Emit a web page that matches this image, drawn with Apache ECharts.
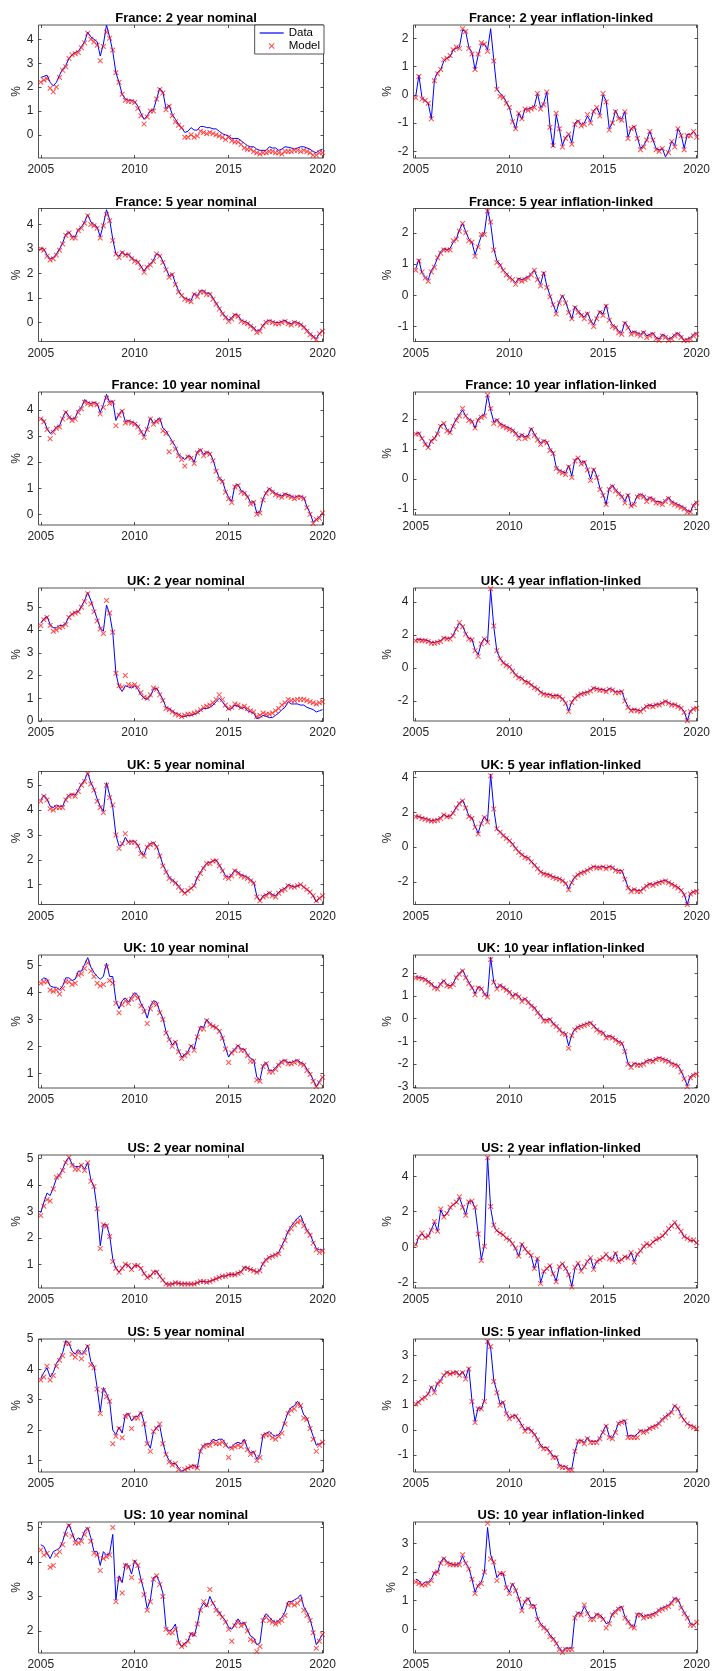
<!DOCTYPE html>
<html><head><meta charset="utf-8">
<script src="https://cdn.jsdelivr.net/npm/echarts@6/dist/echarts.min.js"></script>
<style>html,body{margin:0;padding:0;background:#fff}#c{width:713px;height:1671px}</style>
</head><body><div id="c"></div>
<script>
// time grid: every two months, Jan 2005 .. Jan 2020
const years = [];
for (let k = 0; k <= 90; k++) years.push(2005 + k / 6);
const xTicks = [2005, 2010, 2015, 2020];

const titles = [
  'France: 2 year nominal', 'France: 2 year inflation-linked',
  'France: 5 year nominal', 'France: 5 year inflation-linked',
  'France: 10 year nominal', 'France: 10 year inflation-linked',
  'UK: 2 year nominal', 'UK: 4 year inflation-linked',
  'UK: 5 year nominal', 'UK: 5 year inflation-linked',
  'UK: 10 year nominal', 'UK: 10 year inflation-linked',
  'US: 2 year nominal', 'US: 2 year inflation-linked',
  'US: 5 year nominal', 'US: 5 year inflation-linked',
  'US: 10 year nominal', 'US: 10 year inflation-linked'
];

const yTicks = [
  [0,1,2,3,4], [-2,-1,0,1,2],
  [0,1,2,3,4], [-1,0,1,2],
  [0,1,2,3,4], [-1,0,1,2],
  [0,1,2,3,4,5], [-2,0,2,4],
  [1,2,3,4,5], [-2,0,2,4],
  [1,2,3,4,5], [-3,-2,-1,0,1,2],
  [1,2,3,4,5], [-2,0,2,4],
  [1,2,3,4,5], [-1,0,1,2,3],
  [2,3,4,5], [0,1,2,3]
];
const yMin = [-0.97, -2.24, -0.77, -1.48, -0.41, -1.2, 0, -3.22, 0.2, -3.3, 0.45, -3.05, 0.1, -2.3, 0.62, -1.68, 1.36, -0.82];
const yMax = [4.6, 2.48, 4.65, 2.78, 4.69, 2.9, 5.85, 4.85, 5.55, 4.35, 5.4, 2.8, 5.14, 5.2, 5.0, 3.65, 5.16, 3.74];

// ---------------- France ----------------
const fr2Nom = [
  2.40, 2.45, 2.50, 2.20, 2.05, 2.20,
  2.50, 2.75, 2.90, 3.20, 3.35, 3.45,
  3.50, 3.70, 3.90, 4.30, 4.10, 4.00,
  3.90, 3.30, 3.80, 4.60, 4.10, 3.50,
  2.60, 2.20, 1.70, 1.50, 1.45, 1.45,
  1.40, 1.20, 0.90, 0.65, 0.80, 1.00,
  1.05, 1.50, 1.95, 1.80, 1.10, 1.25,
  0.85, 0.65, 0.45, 0.30, 0.10, 0.15,
  0.30, 0.20, 0.20, 0.35, 0.35, 0.30,
  0.30, 0.25, 0.25, 0.15, 0.05, 0.00,
  -0.05, -0.15, -0.15, -0.15, -0.25, -0.35,
  -0.45, -0.50, -0.50, -0.60, -0.65, -0.65,
  -0.65, -0.50, -0.55, -0.55, -0.65, -0.60,
  -0.50, -0.52, -0.55, -0.60, -0.55, -0.50,
  -0.50, -0.55, -0.60, -0.70, -0.75, -0.65,
  -0.60];
const fr2NomModel = [
  2.20, 2.30, 2.35, 1.95, 1.80, 2.00,
  2.40, 2.70, 2.85, 3.20, 3.35, 3.40,
  3.45, 3.65, 3.85, 4.25, 4.00, 3.90,
  3.75, 3.10, 3.70, 4.30, 4.05, 3.55,
  2.60, 2.20, 1.70, 1.45, 1.40, 1.40,
  1.35, 1.10, 0.80, 0.45, 0.75, 1.00,
  1.00, 1.50, 1.90, 1.75, 1.05, 1.20,
  0.80, 0.55, 0.40, 0.30, -0.10, -0.10,
  0.00, -0.10, -0.05, 0.15, 0.10, 0.05,
  0.10, 0.05, 0.00, -0.05, -0.10, -0.20,
  -0.10, -0.25, -0.30, -0.30, -0.40, -0.55,
  -0.60, -0.60, -0.70, -0.75, -0.80, -0.75,
  -0.75, -0.70, -0.70, -0.75, -0.75, -0.80,
  -0.70, -0.70, -0.70, -0.65, -0.65, -0.70,
  -0.65, -0.70, -0.75, -0.85, -0.85, -0.75,
  -0.75];

const fr2IL = [
  -0.05, 0.70, -0.10, -0.20, -0.30, -0.85,
  0.55, 0.80, 0.90, 1.20, 1.30, 1.35,
  1.60, 1.65, 1.70, 2.30, 2.25, 1.70,
  1.50, 0.90, 1.40, 1.80, 1.80, 1.60,
  2.35, 1.25, 0.20, 0.05, -0.05, -0.25,
  -0.45, -0.90, -1.20, -0.65, -0.85, -0.50,
  -0.50, -0.45, -0.40, 0.05, -0.45, -0.30,
  0.10, -1.10, -1.85, -0.70, -1.20, -1.80,
  -1.50, -1.40, -1.70, -1.00, -0.90, -1.05,
  -1.00, -0.75, -0.95, -0.55, -0.45, -0.70,
  0.00, -0.20, -1.20, -1.00, -0.55, -0.80,
  -0.85, -0.60, -1.50, -1.20, -1.10, -1.50,
  -1.90, -1.80, -1.60, -1.30, -1.60, -1.90,
  -1.95, -1.90, -2.20, -2.00, -1.65, -1.80,
  -1.20, -1.40, -1.90, -1.40, -1.40, -1.30,
  -1.45];
const fr2ILModel = [
  -0.10, 0.65, -0.15, -0.20, -0.30, -0.85,
  0.50, 0.75, 0.90, 1.25, 1.30, 1.40,
  1.60, 1.70, 1.65, 2.35, 2.25, 1.65,
  1.45, 0.90, 1.45, 1.85, 1.80, 1.55,
  2.50, 1.20, 0.20, -0.05, -0.10, -0.30,
  -0.45, -0.95, -1.20, -0.65, -0.85, -0.50,
  -0.55, -0.50, -0.45, 0.05, -0.50, -0.35,
  0.10, -1.15, -1.80, -0.65, -1.20, -1.85,
  -1.55, -1.40, -1.75, -1.05, -0.95, -1.10,
  -1.05, -0.70, -1.00, -0.60, -0.45, -0.75,
  0.05, -0.25, -1.25, -1.00, -0.60, -0.85,
  -0.90, -0.60, -1.55, -1.20, -1.15, -1.55,
  -1.95, -1.85, -1.60, -1.30, -1.60, -1.95,
  -2.00, -1.90, -2.25, -2.05, -1.65, -1.85,
  -1.20, -1.45, -1.95, -1.45, -1.45, -1.30,
  -1.50];

const fr5Nom = [
  3.05, 3.00, 2.75, 2.60, 2.65, 2.80,
  3.00, 3.25, 3.60, 3.70, 3.50, 3.50,
  3.80, 3.90, 4.10, 4.40, 4.10, 4.00,
  3.90, 3.50, 4.00, 4.60, 4.20, 3.40,
  2.80, 2.70, 2.90, 2.75, 2.80, 2.65,
  2.55, 2.50, 2.30, 2.10, 2.30, 2.40,
  2.55, 2.80, 2.75, 2.50, 2.20, 1.90,
  2.00, 1.60, 1.30, 1.10, 1.00, 0.95,
  0.90, 1.20, 1.10, 1.30, 1.30, 1.20,
  1.20, 1.00, 0.80, 0.60, 0.40, 0.25,
  0.10, 0.20, 0.35, 0.30, 0.10, 0.05,
  0.00, -0.10, -0.20, -0.35, -0.30, -0.10,
  0.05, 0.10, 0.05, 0.00, 0.00, 0.05,
  0.10, 0.00, -0.05, 0.05, 0.00, -0.05,
  -0.15, -0.30, -0.45, -0.55, -0.65, -0.45,
  -0.30];
const fr5NomModel = [
  3.00, 2.95, 2.70, 2.55, 2.60, 2.75,
  2.95, 3.20, 3.55, 3.65, 3.45, 3.45,
  3.75, 3.85, 4.05, 4.35, 4.00, 3.95,
  3.85, 3.45, 3.95, 4.40, 4.15, 3.35,
  2.80, 2.65, 2.85, 2.75, 2.75, 2.60,
  2.50, 2.45, 2.25, 2.05, 2.25, 2.35,
  2.50, 2.80, 2.70, 2.45, 2.15, 1.85,
  1.95, 1.55, 1.25, 1.10, 0.95, 0.90,
  0.85, 1.15, 1.05, 1.25, 1.25, 1.15,
  1.15, 0.95, 0.75, 0.55, 0.35, 0.20,
  0.05, 0.15, 0.30, 0.25, 0.05, 0.00,
  -0.05, -0.15, -0.25, -0.40, -0.35, -0.15,
  0.00, 0.05, 0.00, -0.05, -0.05, 0.00,
  0.05, -0.05, -0.10, 0.00, -0.05, -0.10,
  -0.20, -0.35, -0.50, -0.60, -0.70, -0.45,
  -0.35];

const fr5IL = [
  0.85, 1.15, 0.70, 0.60, 0.50, 0.80,
  0.95, 1.20, 1.40, 1.50, 1.45, 1.50,
  1.70, 1.80, 2.10, 2.30, 2.05, 1.80,
  1.70, 1.30, 1.60, 1.90, 2.00, 2.75,
  2.30, 1.50, 1.10, 1.00, 0.80, 0.70,
  0.60, 0.50, 0.40, 0.55, 0.50, 0.55,
  0.60, 0.70, 0.80, 0.55, 0.35, 0.75,
  0.30, 0.00, -0.30, -0.55, -0.20, 0.00,
  -0.20, -0.50, -0.75, -0.35, -0.50, -0.60,
  -0.70, -0.55, -0.80, -0.95, -0.70, -0.50,
  -0.60, -0.30, -0.75, -0.95, -1.00, -1.15,
  -1.20, -0.85, -1.00, -1.20, -1.15, -1.20,
  -1.25, -1.15, -1.30, -1.25, -1.20, -1.35,
  -1.40, -1.25, -1.30, -1.40, -1.35, -1.25,
  -1.20, -1.30, -1.45, -1.40, -1.35, -1.25,
  -1.20];
const fr5ILModel = [
  0.80, 1.10, 0.75, 0.55, 0.45, 0.75,
  0.90, 1.20, 1.35, 1.45, 1.45, 1.45,
  1.75, 1.80, 2.05, 2.30, 2.00, 1.75,
  1.70, 1.25, 1.55, 1.95, 1.95, 2.70,
  2.35, 1.45, 1.05, 0.95, 0.80, 0.65,
  0.55, 0.50, 0.35, 0.50, 0.45, 0.50,
  0.55, 0.65, 0.80, 0.50, 0.30, 0.70,
  0.25, -0.05, -0.30, -0.60, -0.25, -0.05,
  -0.25, -0.55, -0.75, -0.40, -0.55, -0.65,
  -0.75, -0.60, -0.85, -1.00, -0.75, -0.55,
  -0.65, -0.35, -0.80, -1.00, -1.05, -1.20,
  -1.25, -0.90, -1.05, -1.25, -1.20, -1.25,
  -1.30, -1.20, -1.35, -1.30, -1.25, -1.40,
  -1.45, -1.30, -1.35, -1.45, -1.40, -1.30,
  -1.25, -1.35, -1.45, -1.45, -1.40, -1.30,
  -1.25];

const fr10Nom = [
  3.70, 3.60, 3.30, 3.10, 3.20, 3.35,
  3.40, 3.70, 3.95, 3.75, 3.65, 3.70,
  4.00, 4.10, 4.40, 4.30, 4.25, 4.30,
  4.25, 3.90, 4.20, 4.60, 4.30, 4.35,
  3.60, 3.85, 4.00, 3.55, 3.60, 3.55,
  3.50, 3.40, 3.20, 3.00, 3.30, 3.70,
  3.50, 3.60, 3.70, 3.30, 3.20, 3.00,
  2.80, 2.60, 2.30, 2.20, 2.10, 2.25,
  2.20, 2.00, 2.40, 2.50, 2.30, 2.40,
  2.35, 2.10, 1.70, 1.40, 1.30, 0.90,
  0.65, 0.50, 1.10, 1.15, 0.90, 0.85,
  0.70, 0.45, 0.50, 0.05, 0.10, 0.60,
  0.85, 1.00, 0.90, 0.80, 0.75, 0.70,
  0.80, 0.75, 0.70, 0.65, 0.70, 0.70,
  0.65, 0.30, 0.05, -0.30, -0.20, -0.10,
  0.05];
const fr10NomModel = [
  3.65, 3.55, 3.25, 2.90, 3.15, 3.30,
  3.35, 3.65, 3.90, 3.70, 3.60, 3.65,
  3.90, 4.05, 4.30, 4.25, 4.20, 4.25,
  4.20, 3.85, 4.10, 4.45, 4.25, 4.30,
  3.40, 3.80, 3.95, 3.50, 3.55, 3.50,
  3.45, 3.35, 3.15, 2.95, 3.25, 3.65,
  3.45, 3.55, 3.60, 3.20, 3.10, 2.40,
  2.75, 2.50, 2.25, 2.10, 1.85, 2.20,
  2.15, 1.95, 2.35, 2.45, 2.25, 2.35,
  2.30, 2.05, 1.65, 1.35, 1.25, 0.85,
  0.60, 0.45, 1.05, 1.10, 0.85, 0.80,
  0.65, 0.40, 0.45, 0.00, 0.05, 0.55,
  0.80, 0.95, 0.85, 0.75, 0.70, 0.65,
  0.75, 0.70, 0.65, 0.60, 0.65, 0.65,
  0.60, 0.25, 0.00, -0.35, -0.20, -0.15,
  0.05];

const fr10IL = [
  1.50, 1.55, 1.35, 1.20, 1.05, 1.30,
  1.35, 1.55, 1.80, 1.85, 1.65, 1.55,
  1.80, 2.00, 2.15, 2.30, 2.10, 2.00,
  1.95, 1.70, 2.00, 2.10, 2.15, 2.80,
  2.30, 1.90, 2.00, 1.85, 1.80, 1.75,
  1.70, 1.65, 1.55, 1.40, 1.50, 1.40,
  1.45, 1.70, 1.50, 1.35, 1.20, 1.30,
  1.25, 1.00, 0.90, 0.40, 0.30, 0.25,
  0.20, 0.45, 0.10, 0.65, 0.70, 0.55,
  0.60, 0.35, 0.00, 0.35, 0.10, -0.30,
  -0.50, -0.85, -0.30, -0.20, -0.35, -0.45,
  -0.55, -0.75, -0.50, -0.90, -0.80, -0.55,
  -0.50, -0.55, -0.70, -0.60, -0.65, -0.75,
  -0.75, -0.80, -0.70, -0.60, -0.75, -0.80,
  -0.85, -0.90, -0.95, -1.05, -1.10, -0.85,
  -0.75];
const fr10ILModel = [
  1.50, 1.50, 1.35, 1.15, 1.05, 1.25,
  1.35, 1.50, 1.75, 1.85, 1.60, 1.55,
  1.75, 1.95, 2.10, 2.35, 2.10, 1.95,
  1.90, 1.70, 1.95, 2.05, 2.10, 2.80,
  2.35, 1.85, 1.95, 1.80, 1.75, 1.70,
  1.65, 1.60, 1.50, 1.35, 1.45, 1.35,
  1.40, 1.65, 1.45, 1.30, 1.15, 1.25,
  1.20, 0.95, 0.85, 0.35, 0.25, 0.20,
  0.15, 0.40, 0.05, 0.60, 0.70, 0.50,
  0.55, 0.30, -0.05, 0.30, 0.05, -0.35,
  -0.55, -0.85, -0.35, -0.25, -0.40, -0.50,
  -0.60, -0.80, -0.55, -0.90, -0.85, -0.60,
  -0.55, -0.60, -0.75, -0.65, -0.70, -0.80,
  -0.80, -0.85, -0.75, -0.65, -0.80, -0.85,
  -0.90, -0.95, -1.00, -1.10, -1.10, -0.90,
  -0.80];

// ---------------- UK ----------------
const uk2Nom = [
  4.30, 4.50, 4.60, 4.25, 4.10, 4.10,
  4.20, 4.20, 4.30, 4.60, 4.70, 4.80,
  4.80, 5.05, 5.30, 5.65, 5.30, 4.90,
  4.50, 4.10, 3.95, 5.10, 4.70, 3.90,
  2.10, 1.50, 1.30, 1.55, 1.50, 1.45,
  1.55, 1.40, 1.15, 1.00, 0.95, 1.10,
  1.40, 1.45, 1.20, 0.95, 0.60, 0.55,
  0.45, 0.35, 0.30, 0.20, 0.20, 0.25,
  0.25, 0.30, 0.35, 0.45, 0.55, 0.55,
  0.60, 0.70, 0.85, 1.00, 0.85, 0.65,
  0.50, 0.55, 0.70, 0.65, 0.55, 0.60,
  0.45, 0.40, 0.35, 0.10, 0.15, 0.25,
  0.20, 0.15, 0.15, 0.25, 0.35, 0.50,
  0.60, 0.85, 0.75, 0.75, 0.75, 0.70,
  0.70, 0.60, 0.55, 0.50, 0.40, 0.45,
  0.50];
const uk2NomModel = [
  4.20, 4.45, 4.55, 4.20, 3.95, 4.00,
  4.10, 4.15, 4.25, 4.55, 4.70, 4.75,
  4.80, 5.00, 5.25, 5.60, 5.15, 4.80,
  4.40, 4.05, 3.85, 5.30, 4.75, 3.90,
  2.10, 1.55, 1.50, 2.00, 1.60, 1.55,
  1.60, 1.50, 1.25, 1.05, 1.00, 1.15,
  1.45, 1.40, 1.15, 0.90, 0.55, 0.50,
  0.40, 0.30, 0.25, 0.20, 0.25, 0.30,
  0.30, 0.35, 0.40, 0.50, 0.60, 0.65,
  0.70, 0.80, 0.95, 1.15, 0.95, 0.70,
  0.55, 0.60, 0.75, 0.70, 0.60, 0.65,
  0.55, 0.45, 0.40, 0.20, 0.25, 0.35,
  0.30, 0.30, 0.35, 0.45, 0.55, 0.70,
  0.80, 0.95, 0.90, 0.90, 0.95, 0.95,
  0.95, 0.90, 0.85, 0.80, 0.75, 0.80,
  0.85];

const uk4IL = [
  1.70, 1.75, 1.70, 1.70, 1.65, 1.55,
  1.55, 1.60, 1.65, 1.85, 1.80, 1.80,
  2.00, 2.40, 2.70, 2.55, 2.10, 1.80,
  1.75, 1.10, 0.80, 1.50, 1.80, 1.55,
  4.75, 2.50, 1.00, 0.60, 0.35, 0.20,
  0.10, -0.15, -0.40, -0.55, -0.60, -0.80,
  -0.85, -1.00, -1.15, -1.25, -1.45, -1.55,
  -1.60, -1.60, -1.70, -1.65, -1.70, -1.85,
  -2.10, -2.60, -2.05, -1.80, -1.65, -1.55,
  -1.50, -1.45, -1.35, -1.20, -1.25, -1.30,
  -1.30, -1.40, -1.25, -1.30, -1.45, -1.45,
  -1.40, -1.95, -2.35, -2.55, -2.50, -2.55,
  -2.60, -2.45, -2.30, -2.25, -2.30, -2.20,
  -2.20, -2.10, -2.00, -2.10, -2.20, -2.20,
  -2.30, -2.40, -2.65, -3.20, -2.60, -2.45,
  -2.40];
const uk4ILModel = [
  1.65, 1.70, 1.65, 1.65, 1.60, 1.50,
  1.50, 1.55, 1.60, 1.80, 1.75, 1.75,
  1.95, 2.35, 2.75, 2.50, 2.05, 1.75,
  1.70, 1.05, 0.70, 1.45, 1.75, 1.55,
  4.80, 2.55, 1.05, 0.55, 0.30, 0.15,
  0.05, -0.20, -0.45, -0.60, -0.65, -0.85,
  -0.90, -1.05, -1.20, -1.30, -1.50, -1.60,
  -1.65, -1.65, -1.75, -1.70, -1.75, -1.90,
  -2.15, -2.65, -2.10, -1.85, -1.70, -1.60,
  -1.55, -1.50, -1.40, -1.25, -1.30, -1.35,
  -1.35, -1.45, -1.30, -1.35, -1.50, -1.50,
  -1.45, -2.00, -2.40, -2.60, -2.55, -2.60,
  -2.65, -2.50, -2.35, -2.30, -2.35, -2.25,
  -2.25, -2.15, -2.05, -2.15, -2.25, -2.25,
  -2.35, -2.45, -2.70, -3.20, -2.65, -2.50,
  -2.45];

const uk5Nom = [
  4.40, 4.60, 4.45, 4.15, 4.10, 4.20,
  4.15, 4.15, 4.45, 4.60, 4.65, 4.60,
  4.80, 5.05, 5.20, 5.50, 5.10, 4.85,
  4.45, 4.15, 3.95, 5.10, 4.60, 4.10,
  3.00, 2.55, 2.60, 2.90, 2.70, 2.75,
  2.75, 2.60, 2.30, 2.20, 2.55, 2.65,
  2.70, 2.55, 2.20, 1.80, 1.55, 1.30,
  1.20, 1.10, 0.95, 0.80, 0.65, 0.75,
  0.85, 0.95, 1.30, 1.50, 1.70, 1.85,
  1.90, 1.95, 2.00, 1.80, 1.60, 1.35,
  1.30, 1.40, 1.60, 1.50, 1.40, 1.35,
  1.30, 1.20, 1.10, 0.55, 0.35, 0.55,
  0.60, 0.70, 0.60, 0.55, 0.70, 0.80,
  0.85, 1.00, 0.95, 0.90, 0.95, 1.00,
  0.90, 0.80, 0.70, 0.55, 0.30, 0.45,
  0.55];
const uk5NomModel = [
  4.35, 4.55, 4.40, 4.05, 4.00, 4.10,
  4.10, 4.10, 4.40, 4.55, 4.60, 4.55,
  4.75, 5.00, 5.15, 5.45, 5.05, 4.80,
  4.35, 4.10, 3.90, 5.00, 4.50, 4.20,
  3.00, 2.45, 2.65, 3.05, 2.70, 2.70,
  2.70, 2.55, 2.25, 2.15, 2.50, 2.60,
  2.65, 2.50, 2.15, 1.75, 1.50, 1.25,
  1.15, 1.05, 0.90, 0.75, 0.65, 0.75,
  0.85, 0.95, 1.25, 1.45, 1.65, 1.85,
  1.85, 1.95, 1.95, 1.75, 1.55, 1.30,
  1.25, 1.35, 1.55, 1.45, 1.35, 1.30,
  1.25, 1.15, 1.05, 0.50, 0.35, 0.50,
  0.55, 0.65, 0.55, 0.50, 0.65, 0.75,
  0.80, 0.95, 0.90, 0.90, 0.95, 1.00,
  0.90, 0.80, 0.70, 0.55, 0.35, 0.45,
  0.55];

const uk5IL = [
  1.80, 1.75, 1.70, 1.65, 1.60, 1.50,
  1.55, 1.60, 1.70, 1.90, 1.75, 1.80,
  2.00, 2.30, 2.55, 2.70, 2.30, 1.80,
  1.70, 1.20, 0.80, 1.40, 1.75, 1.50,
  4.20, 2.20, 1.00, 0.90, 0.70, 0.55,
  0.40, 0.20, -0.05, -0.25, -0.40, -0.55,
  -0.60, -0.80, -1.00, -1.20, -1.40, -1.50,
  -1.55, -1.60, -1.70, -1.75, -1.80, -1.90,
  -2.05, -2.40, -2.00, -1.70, -1.55, -1.45,
  -1.40, -1.30, -1.20, -1.10, -1.15, -1.15,
  -1.10, -1.20, -1.10, -1.15, -1.30, -1.35,
  -1.35, -1.80, -2.30, -2.50, -2.40, -2.50,
  -2.50, -2.35, -2.20, -2.10, -2.15, -2.05,
  -2.00, -1.95, -1.90, -2.00, -2.10, -2.20,
  -2.30, -2.45, -2.70, -3.30, -2.65, -2.55,
  -2.50];
const uk5ILModel = [
  1.75, 1.75, 1.65, 1.60, 1.55, 1.50,
  1.50, 1.55, 1.65, 1.85, 1.75, 1.75,
  1.95, 2.25, 2.50, 2.65, 2.25, 1.75,
  1.65, 1.15, 0.75, 1.35, 1.70, 1.45,
  4.10, 2.20, 1.05, 0.85, 0.65, 0.50,
  0.35, 0.15, -0.10, -0.30, -0.45, -0.60,
  -0.65, -0.85, -1.05, -1.25, -1.45, -1.55,
  -1.60, -1.65, -1.75, -1.80, -1.85, -1.95,
  -2.10, -2.45, -2.05, -1.75, -1.60, -1.50,
  -1.45, -1.35, -1.25, -1.15, -1.20, -1.20,
  -1.15, -1.25, -1.15, -1.20, -1.35, -1.40,
  -1.40, -1.85, -2.35, -2.55, -2.45, -2.55,
  -2.55, -2.40, -2.25, -2.15, -2.20, -2.10,
  -2.05, -2.00, -1.95, -2.05, -2.15, -2.25,
  -2.35, -2.50, -2.75, -3.30, -2.70, -2.60,
  -2.55];

const uk10Nom = [
  4.45, 4.55, 4.50, 4.25, 4.20, 4.20,
  4.10, 4.25, 4.55, 4.55, 4.45, 4.50,
  4.80, 4.80, 5.05, 5.30, 4.95, 4.75,
  4.60, 4.50, 4.60, 5.10, 4.60, 4.60,
  3.70, 3.40, 3.70, 3.80, 3.65, 3.85,
  4.00, 3.90, 3.60, 3.40, 3.05, 3.50,
  3.70, 3.65, 3.30, 3.05, 2.55, 2.30,
  2.05, 2.20, 1.85, 1.60, 1.70, 1.80,
  2.05, 1.90, 2.40, 2.75, 2.70, 3.00,
  2.85, 2.75, 2.70, 2.60, 2.35, 1.95,
  1.60, 1.80, 1.90, 2.05, 1.90, 1.90,
  1.70, 1.55, 1.50, 0.85, 0.75, 1.30,
  1.40, 1.10, 1.10, 1.20, 1.35, 1.45,
  1.50, 1.40, 1.40, 1.45, 1.50, 1.40,
  1.35, 1.15, 1.00, 0.75, 0.50, 0.70,
  0.85];
const uk10NomModel = [
  4.35, 4.40, 4.40, 4.10, 4.05, 4.10,
  3.95, 4.15, 4.40, 4.40, 4.30, 4.35,
  4.65, 4.70, 4.90, 5.10, 4.80, 4.60,
  4.35, 4.25, 4.30, 4.95, 4.45, 4.35,
  3.60, 3.25, 3.55, 3.70, 3.60, 3.75,
  3.90, 3.80, 3.50, 3.30, 2.85, 3.40,
  3.60, 3.55, 3.25, 3.00, 2.50, 2.25,
  2.00, 2.15, 1.80, 1.55, 1.65, 1.75,
  2.00, 1.85, 2.35, 2.65, 2.65, 2.95,
  2.80, 2.75, 2.70, 2.55, 2.30, 1.90,
  1.40, 1.75, 1.85, 2.00, 1.85, 1.85,
  1.65, 1.45, 1.45, 0.75, 0.70, 1.25,
  1.35, 1.05, 1.05, 1.15, 1.30, 1.40,
  1.45, 1.35, 1.35, 1.40, 1.45, 1.35,
  1.30, 1.10, 0.95, 0.70, 0.50, 0.65,
  0.85];

const uk10IL = [
  1.85, 1.80, 1.80, 1.75, 1.65, 1.55,
  1.40, 1.35, 1.55, 1.70, 1.50, 1.45,
  1.55, 1.85, 2.00, 2.15, 1.85, 1.60,
  1.40, 1.10, 1.40, 1.35, 1.10, 1.00,
  2.70, 1.60, 1.35, 1.50, 1.40, 1.30,
  1.20, 1.00, 1.10, 1.00, 0.80, 0.90,
  0.75, 0.60, 0.50, 0.30, 0.15, -0.05,
  -0.05, 0.00, -0.20, -0.30, -0.45, -0.60,
  -0.65, -1.20, -0.70, -0.45, -0.35, -0.30,
  -0.25, -0.20, -0.15, -0.30, -0.45, -0.55,
  -0.60, -0.80, -0.75, -0.80, -0.90, -1.00,
  -1.05, -1.40, -1.95, -2.10, -1.95, -2.00,
  -2.00, -1.95, -1.85, -1.80, -1.85, -1.75,
  -1.70, -1.75, -1.80, -1.85, -1.95, -2.00,
  -2.05, -2.30, -2.60, -2.95, -2.55, -2.45,
  -2.40];
const uk10ILModel = [
  1.80, 1.80, 1.75, 1.70, 1.60, 1.50,
  1.35, 1.30, 1.50, 1.65, 1.45, 1.40,
  1.50, 1.80, 1.95, 2.10, 1.80, 1.55,
  1.35, 1.05, 1.35, 1.30, 1.05, 0.95,
  2.60, 1.60, 1.30, 1.45, 1.35, 1.25,
  1.15, 0.95, 1.05, 0.95, 0.75, 0.85,
  0.70, 0.55, 0.45, 0.25, 0.10, -0.10,
  -0.10, -0.05, -0.25, -0.35, -0.50, -0.65,
  -0.70, -1.30, -0.75, -0.50, -0.40, -0.35,
  -0.30, -0.25, -0.20, -0.35, -0.50, -0.60,
  -0.65, -0.85, -0.80, -0.85, -0.95, -1.05,
  -1.10, -1.45, -2.00, -2.15, -2.00, -2.05,
  -2.05, -2.00, -1.90, -1.85, -1.90, -1.80,
  -1.75, -1.80, -1.85, -1.90, -2.00, -2.05,
  -2.10, -2.35, -2.65, -3.00, -2.60, -2.50,
  -2.45];

// ---------------- US ----------------
const us2Nom = [
  2.95, 3.35, 3.70, 3.60, 3.90, 4.25,
  4.40, 4.60, 4.90, 5.05, 4.80, 4.70,
  4.70, 4.75, 4.60, 4.85, 4.20, 3.95,
  3.10, 1.70, 2.50, 2.50, 2.10, 1.20,
  0.85, 0.70, 0.85, 1.00, 0.95, 0.80,
  0.95, 0.95, 0.85, 0.65, 0.50, 0.55,
  0.70, 0.75, 0.55, 0.40, 0.25, 0.25,
  0.25, 0.30, 0.28, 0.25, 0.27, 0.25,
  0.25, 0.25, 0.30, 0.35, 0.35, 0.32,
  0.35, 0.40, 0.45, 0.50, 0.55, 0.55,
  0.60, 0.62, 0.60, 0.68, 0.72, 0.90,
  0.85, 0.80, 0.78, 0.70, 0.78, 1.05,
  1.20, 1.28, 1.32, 1.38, 1.45, 1.70,
  1.95, 2.25, 2.45, 2.60, 2.75, 2.85,
  2.55, 2.30, 2.15, 1.85, 1.60, 1.55,
  1.55];
const us2NomModel = [
  2.85, 3.20, 3.45, 3.40, 3.85, 4.30,
  4.35, 4.55, 4.85, 5.05, 4.75, 4.60,
  4.60, 4.75, 4.55, 4.85, 4.15, 3.95,
  3.10, 1.60, 2.50, 2.45, 2.05, 1.10,
  0.85, 0.70, 0.85, 1.00, 0.95, 0.80,
  0.95, 0.95, 0.85, 0.65, 0.50, 0.55,
  0.70, 0.70, 0.55, 0.40, 0.25, 0.22,
  0.25, 0.30, 0.28, 0.25, 0.25, 0.25,
  0.25, 0.25, 0.30, 0.35, 0.35, 0.32,
  0.35, 0.40, 0.45, 0.50, 0.55, 0.55,
  0.60, 0.60, 0.60, 0.65, 0.70, 0.85,
  0.85, 0.80, 0.75, 0.70, 0.75, 1.00,
  1.15, 1.25, 1.30, 1.35, 1.40, 1.65,
  1.90, 2.20, 2.35, 2.50, 2.60, 2.65,
  2.45, 2.25, 2.10, 1.80, 1.55, 1.45,
  1.50];

const us2IL = [
  0.10, 0.60, 0.75, 0.55, 0.60, 1.00,
  1.40, 0.90, 2.10, 1.75, 1.90, 2.20,
  2.40, 2.50, 2.80, 2.30, 1.85, 2.60,
  2.60, 2.20, 0.80, -0.70, 0.10, 5.10,
  2.20, 1.20, 0.90, 0.80, 0.70, 0.50,
  0.45, 0.20, -0.10, -0.50, 0.20, -0.10,
  -0.30, -0.50, -1.20, -0.60, -2.00, -1.40,
  -1.20, -1.00, -1.50, -1.90, -1.10, -0.90,
  -1.20, -1.50, -2.20, -1.20, -0.90, -1.30,
  -1.10, -0.80, -0.60, -1.20, -0.80, -0.70,
  -0.60, -0.40, -0.60, -0.70, -0.30, -0.80,
  -0.70, -0.50, -0.60, -0.30, -0.80, -0.40,
  -0.20, 0.00, 0.20, 0.10, 0.30, 0.40,
  0.50, 0.60, 0.80, 1.00, 1.20, 1.40,
  1.10, 0.90, 0.60, 0.50, 0.35, 0.40,
  0.20];
const us2ILModel = [
  0.15, 0.55, 0.80, 0.55, 0.65, 0.95,
  1.45, 0.90, 2.15, 1.70, 1.90, 2.25,
  2.40, 2.55, 2.85, 2.25, 1.80, 2.55,
  2.60, 2.25, 0.75, -0.75, 0.05, 5.05,
  2.30, 1.25, 0.95, 0.80, 0.70, 0.50,
  0.40, 0.20, -0.05, -0.50, 0.15, -0.10,
  -0.30, -0.45, -1.20, -0.65, -2.05, -1.35,
  -1.20, -1.05, -1.50, -1.95, -1.10, -0.95,
  -1.20, -1.55, -2.25, -1.15, -0.90, -1.35,
  -1.10, -0.80, -0.60, -1.25, -0.80, -0.70,
  -0.60, -0.40, -0.65, -0.70, -0.35, -0.80,
  -0.70, -0.55, -0.60, -0.30, -0.85, -0.40,
  -0.20, 0.05, 0.20, 0.10, 0.30, 0.45,
  0.50, 0.65, 0.80, 1.05, 1.20, 1.40,
  1.15, 0.90, 0.60, 0.50, 0.40, 0.40,
  0.25];

const us5Nom = [
  3.70, 3.90, 4.05, 3.75, 3.90, 4.20,
  4.35, 4.55, 4.95, 4.85, 4.60, 4.50,
  4.65, 4.50, 4.60, 4.80, 4.25, 4.10,
  3.40, 2.60, 3.40, 3.20, 2.95, 2.00,
  1.85, 2.10, 1.90, 2.50, 2.55, 2.30,
  2.45, 2.45, 2.60, 2.25, 1.60, 1.40,
  1.95, 2.10, 2.15, 1.60, 1.20, 1.00,
  0.90, 0.90, 0.75, 0.65, 0.70, 0.75,
  0.80, 0.85, 0.75, 1.35, 1.50, 1.55,
  1.55, 1.70, 1.65, 1.70, 1.70, 1.55,
  1.40, 1.45, 1.55, 1.60, 1.55, 1.70,
  1.40, 1.25, 1.30, 1.05, 1.20, 1.85,
  1.90, 1.95, 1.85, 1.80, 1.85, 2.00,
  2.30, 2.60, 2.75, 2.80, 2.95, 2.80,
  2.50, 2.40, 2.10, 1.80, 1.50, 1.55,
  1.60];
const us5NomModel = [
  3.65, 3.75, 4.10, 3.65, 3.80, 4.10,
  4.30, 4.45, 4.85, 4.85, 4.50, 4.40,
  4.55, 4.35, 4.55, 4.75, 4.15, 4.05,
  3.35, 2.55, 3.30, 3.10, 2.95, 1.55,
  1.80, 2.05, 1.75, 2.45, 2.50, 2.05,
  2.40, 2.40, 2.55, 2.20, 1.55, 1.30,
  1.95, 2.05, 2.20, 1.55, 1.20, 0.95,
  0.85, 0.90, 0.70, 0.60, 0.70, 0.75,
  0.80, 0.80, 0.75, 1.30, 1.45, 1.50,
  1.50, 1.60, 1.55, 1.55, 1.60, 1.50,
  1.10, 1.40, 1.45, 1.50, 1.45, 1.60,
  1.35, 1.20, 1.25, 1.00, 1.10, 1.80,
  1.85, 1.85, 1.75, 1.70, 1.80, 1.90,
  2.20, 2.55, 2.65, 2.70, 2.85, 2.80,
  2.40, 2.35, 2.05, 1.70, 1.30, 1.50,
  1.60];

const us5IL = [
  1.05, 1.15, 1.25, 1.35, 1.45, 1.75,
  1.55, 1.90, 2.00, 2.20, 2.35, 2.25,
  2.30, 2.35, 2.20, 2.35, 2.10, 2.50,
  1.20, 0.35, 0.90, 0.85, 1.20, 3.60,
  3.30, 2.00, 1.55, 1.05, 1.15, 0.70,
  0.50, 0.55, 0.60, 0.40, 0.20, 0.00,
  0.10, 0.00, -0.15, -0.35, -0.60, -0.70,
  -0.70, -0.85, -1.05, -1.05, -1.40, -1.45,
  -1.45, -1.55, -1.55, -0.85, -0.45, -0.40,
  -0.50, -0.30, -0.45, -0.45, -0.45, -0.30,
  -0.05, 0.20, -0.25, -0.30, -0.05, 0.30,
  0.35, 0.40, -0.25, -0.20, -0.25, -0.15,
  0.00, -0.05, 0.00, 0.10, 0.15, 0.20,
  0.30, 0.45, 0.55, 0.65, 0.75, 1.00,
  0.85, 0.60, 0.40, 0.25, 0.20, 0.15,
  0.05];
const us5ILModel = [
  1.05, 1.10, 1.25, 1.30, 1.45, 1.70,
  1.50, 1.85, 1.95, 2.20, 2.30, 2.25,
  2.30, 2.30, 2.20, 2.30, 2.05, 2.45,
  1.15, 0.30, 0.85, 0.85, 1.15, 3.55,
  3.35, 1.95, 1.50, 1.00, 1.10, 0.65,
  0.45, 0.55, 0.55, 0.40, 0.15, -0.05,
  0.05, -0.05, -0.20, -0.40, -0.65, -0.75,
  -0.75, -0.90, -1.10, -1.10, -1.45, -1.50,
  -1.50, -1.60, -1.60, -0.85, -0.45, -0.45,
  -0.55, -0.35, -0.50, -0.50, -0.50, -0.35,
  -0.10, 0.15, -0.30, -0.35, -0.10, 0.25,
  0.30, 0.35, -0.30, -0.30, -0.30, -0.30,
  -0.05, -0.10, -0.05, 0.05, 0.10, 0.15,
  0.25, 0.40, 0.50, 0.60, 0.70, 0.95,
  0.85, 0.55, 0.40, 0.25, 0.15, 0.10,
  0.05];

const us10Nom = [
  4.50, 4.45, 4.25, 4.10, 4.30, 4.35,
  4.40, 4.60, 4.90, 5.10, 4.85, 4.60,
  4.70, 4.65, 4.90, 5.00, 4.70, 4.30,
  4.30, 3.90, 4.30, 4.20, 4.25, 4.80,
  2.90, 3.60, 3.40, 3.95, 3.90, 3.65,
  4.05, 3.90, 3.50, 3.15, 2.65, 2.90,
  3.55, 3.60, 3.40, 3.10, 2.10, 2.00,
  2.05, 2.20, 1.70, 1.55, 1.65, 1.70,
  1.95, 1.85, 2.20, 2.65, 2.80, 2.70,
  3.00, 2.80, 2.65, 2.55, 2.40, 2.30,
  2.10, 2.05, 2.20, 2.35, 2.20, 2.25,
  2.05, 1.85, 1.80, 1.60, 1.65, 2.35,
  2.50, 2.40, 2.30, 2.25, 2.30, 2.40,
  2.55, 2.85, 2.85, 2.90, 2.95, 3.05,
  2.70, 2.55, 2.35, 2.00, 1.60, 1.75,
  1.90];
const us10NomModel = [
  4.35, 4.20, 4.25, 3.85, 3.90, 4.20,
  4.30, 4.50, 4.80, 5.05, 4.75, 4.55,
  4.55, 4.60, 4.80, 4.95, 4.60, 4.25,
  4.20, 3.75, 4.10, 4.15, 4.20, 5.00,
  2.85, 3.50, 3.10, 3.90, 3.85, 3.55,
  4.00, 3.90, 3.45, 3.05, 2.60, 2.85,
  3.50, 3.60, 3.35, 3.00, 2.05, 1.95,
  1.95, 2.05, 1.65, 1.55, 1.60, 1.70,
  1.90, 1.90, 2.20, 2.60, 2.85, 2.75,
  3.20, 2.80, 2.60, 2.50, 2.40, 2.25,
  2.05, 1.70, 2.15, 2.25, 2.15, 2.20,
  2.00, 1.75, 1.70, 1.40, 1.55, 2.30,
  2.40, 2.30, 2.25, 2.20, 2.25, 2.30,
  2.45, 2.75, 2.80, 2.75, 2.80, 2.90,
  2.60, 2.45, 2.30, 1.95, 1.50, 1.70,
  1.90];

const us10IL = [
  1.75, 1.70, 1.55, 1.65, 1.65, 1.75,
  2.00, 2.00, 2.35, 2.50, 2.35, 2.30,
  2.25, 2.25, 2.30, 2.55, 2.30, 2.15,
  1.75, 1.30, 1.55, 1.65, 2.00, 3.55,
  2.60, 2.30, 1.80, 1.95, 1.95, 1.50,
  1.30, 1.60, 1.40, 1.10, 0.70, 1.00,
  1.10, 0.85, 0.85, 0.40, 0.20, 0.10,
  0.00, -0.20, -0.30, -0.45, -0.65, -0.75,
  -0.65, -0.65, -0.65, 0.45, 0.60, 0.55,
  0.80, 0.60, 0.40, 0.40, 0.55, 0.50,
  0.40, 0.20, 0.25, 0.55, 0.65, 0.75,
  0.80, 0.45, 0.30, 0.15, 0.10, 0.55,
  0.55, 0.45, 0.50, 0.50, 0.55, 0.60,
  0.70, 0.75, 0.80, 0.85, 0.95, 1.10,
  1.05, 0.80, 0.60, 0.45, 0.20, 0.15,
  0.25];
const us10ILModel = [
  1.65, 1.60, 1.55, 1.55, 1.60, 1.70,
  1.95, 2.00, 2.30, 2.45, 2.30, 2.25,
  2.25, 2.25, 2.25, 2.60, 2.30, 2.10,
  1.75, 1.25, 1.50, 1.60, 2.00, 3.70,
  2.45, 2.35, 1.70, 1.95, 1.95, 1.45,
  1.25, 1.55, 1.35, 1.05, 0.65, 0.95,
  1.05, 0.80, 0.80, 0.35, 0.15, 0.05,
  -0.05, -0.25, -0.35, -0.50, -0.70, -0.80,
  -0.70, -0.70, -0.70, 0.40, 0.55, 0.50,
  0.85, 0.55, 0.35, 0.35, 0.50, 0.45,
  0.35, 0.05, 0.20, 0.50, 0.60, 0.70,
  0.75, 0.40, 0.25, 0.10, 0.05, 0.50,
  0.50, 0.40, 0.45, 0.45, 0.50, 0.55,
  0.65, 0.70, 0.75, 0.80, 0.90, 1.05,
  1.00, 0.75, 0.55, 0.40, 0.15, 0.15,
  0.25];

const dataSets = [fr2Nom, fr2IL, fr5Nom, fr5IL, fr10Nom, fr10IL, uk2Nom, uk4IL, uk5Nom, uk5IL, uk10Nom, uk10IL, us2Nom, us2IL, us5Nom, us5IL, us10Nom, us10IL];
const modelSets = [fr2NomModel, fr2ILModel, fr5NomModel, fr5ILModel, fr10NomModel, fr10ILModel, uk2NomModel, uk4ILModel, uk5NomModel, uk5ILModel, uk10NomModel, uk10ILModel, us2NomModel, us2ILModel, us5NomModel, us5ILModel, us10NomModel, us10ILModel];

// ---------------- layout / style ----------------
const FONT = '"Liberation Sans", Arial, Helvetica, sans-serif';
const AX = '#262626';
const rowTops = [25, 208.5, 392, 588, 771.5, 955, 1155, 1339, 1522];
const colLeft = [38.5, 413.5];
const PW = 285, PH = 133;
const XMIN = 2004.88, XMAX = 2020.05;
const XPATH = 'path://M0,1.3L1.3,0L5,3.7L8.7,0L10,1.3L6.3,5L10,8.7L8.7,10L5,6.3L1.3,10L0,8.7L3.7,5Z';
const LINEICON = 'path://M0,0L24,0L24,1.2L0,1.2Z';
const fmt = v => String(Math.round(v));

const option = {
  animation: false,
  backgroundColor: '#ffffff',
  title: [], grid: [], xAxis: [], yAxis: [], series: [],
  legend: {
    data: [{ name: 'Data', icon: LINEICON }, { name: 'Model', icon: XPATH }],
    orient: 'vertical',
    right: 713 - 324, top: 25,
    itemWidth: 24, itemHeight: 6, itemGap: 1,
    padding: [2, 4, 2, 5],
    borderColor: AX, borderWidth: 0.8, backgroundColor: '#fff',
    textStyle: { fontFamily: FONT, fontSize: 11.5, color: '#000' },
    selectedMode: false
  }
};

titles.forEach((t, i) => {
  const row = Math.floor(i / 2), col = i % 2;
  const top = rowTops[row];
  const h = (i === 5) ? 123 : PH;
  const left = colLeft[col];
  option.grid.push({ left: left, top: top, width: PW, height: h, show: true, borderColor: AX, borderWidth: 0.8, backgroundColor: '#fff' });
  option.title.push({ text: t, left: left + PW / 2, top: top - 18, textAlign: 'center',
    textStyle: { fontFamily: FONT, fontSize: 13, fontWeight: 'bold', color: '#000' } });
  const tickStyle = { color: AX, width: 0.8 };
  // bottom / top x axes
  option.xAxis.push({ type: 'value', gridIndex: i, min: XMIN, max: XMAX, position: 'bottom',
    axisLine: { show: false, onZero: false },
    axisTick: { show: true, inside: true, length: 3, customValues: xTicks, lineStyle: tickStyle },
    axisLabel: { show: true, customValues: xTicks, formatter: fmt, fontFamily: FONT, fontSize: 12, color: AX, margin: 6 },
    splitLine: { show: false } });
  option.xAxis.push({ type: 'value', gridIndex: i, min: XMIN, max: XMAX, position: 'top',
    axisLine: { show: false, onZero: false },
    axisTick: { show: true, inside: true, length: 3, customValues: xTicks, lineStyle: tickStyle },
    axisLabel: { show: false }, splitLine: { show: false } });
  // left / right y axes
  option.yAxis.push({ type: 'value', gridIndex: i, min: yMin[i], max: yMax[i], position: 'left',
    name: '%', nameLocation: 'middle', nameGap: 11,
    nameTextStyle: { fontFamily: FONT, fontSize: 12, color: AX },
    axisLine: { show: false, onZero: false },
    axisTick: { show: true, inside: true, length: 3, customValues: yTicks[i], lineStyle: tickStyle },
    axisLabel: { show: true, customValues: yTicks[i], formatter: fmt, fontFamily: FONT, fontSize: 12, color: AX, margin: 5 },
    splitLine: { show: false } });
  option.yAxis.push({ type: 'value', gridIndex: i, min: yMin[i], max: yMax[i], position: 'right',
    axisLine: { show: false, onZero: false },
    axisTick: { show: true, inside: true, length: 3, customValues: yTicks[i], lineStyle: tickStyle },
    axisLabel: { show: false }, splitLine: { show: false } });

  option.series.push({ type: 'line', name: 'Data', xAxisIndex: 2 * i, yAxisIndex: 2 * i,
    data: years.map((x, k) => [x, dataSets[i][k]]),
    symbol: 'none', lineStyle: { color: '#0000ff', width: 1 }, itemStyle: { color: '#0000ff' },
    clip: true, silent: true, z: 2 });
  option.series.push({ type: 'scatter', name: 'Model', xAxisIndex: 2 * i, yAxisIndex: 2 * i,
    data: years.map((x, k) => [x, modelSets[i][k]]),
    symbol: XPATH, symbolSize: 5.5, itemStyle: { color: 'rgba(255,0,0,0.85)' },
    clip: true, silent: true, z: 3 });
});

const chart = echarts.init(document.getElementById('c'), null, { renderer: 'canvas' });
chart.setOption(option);
</script>
</body></html>
